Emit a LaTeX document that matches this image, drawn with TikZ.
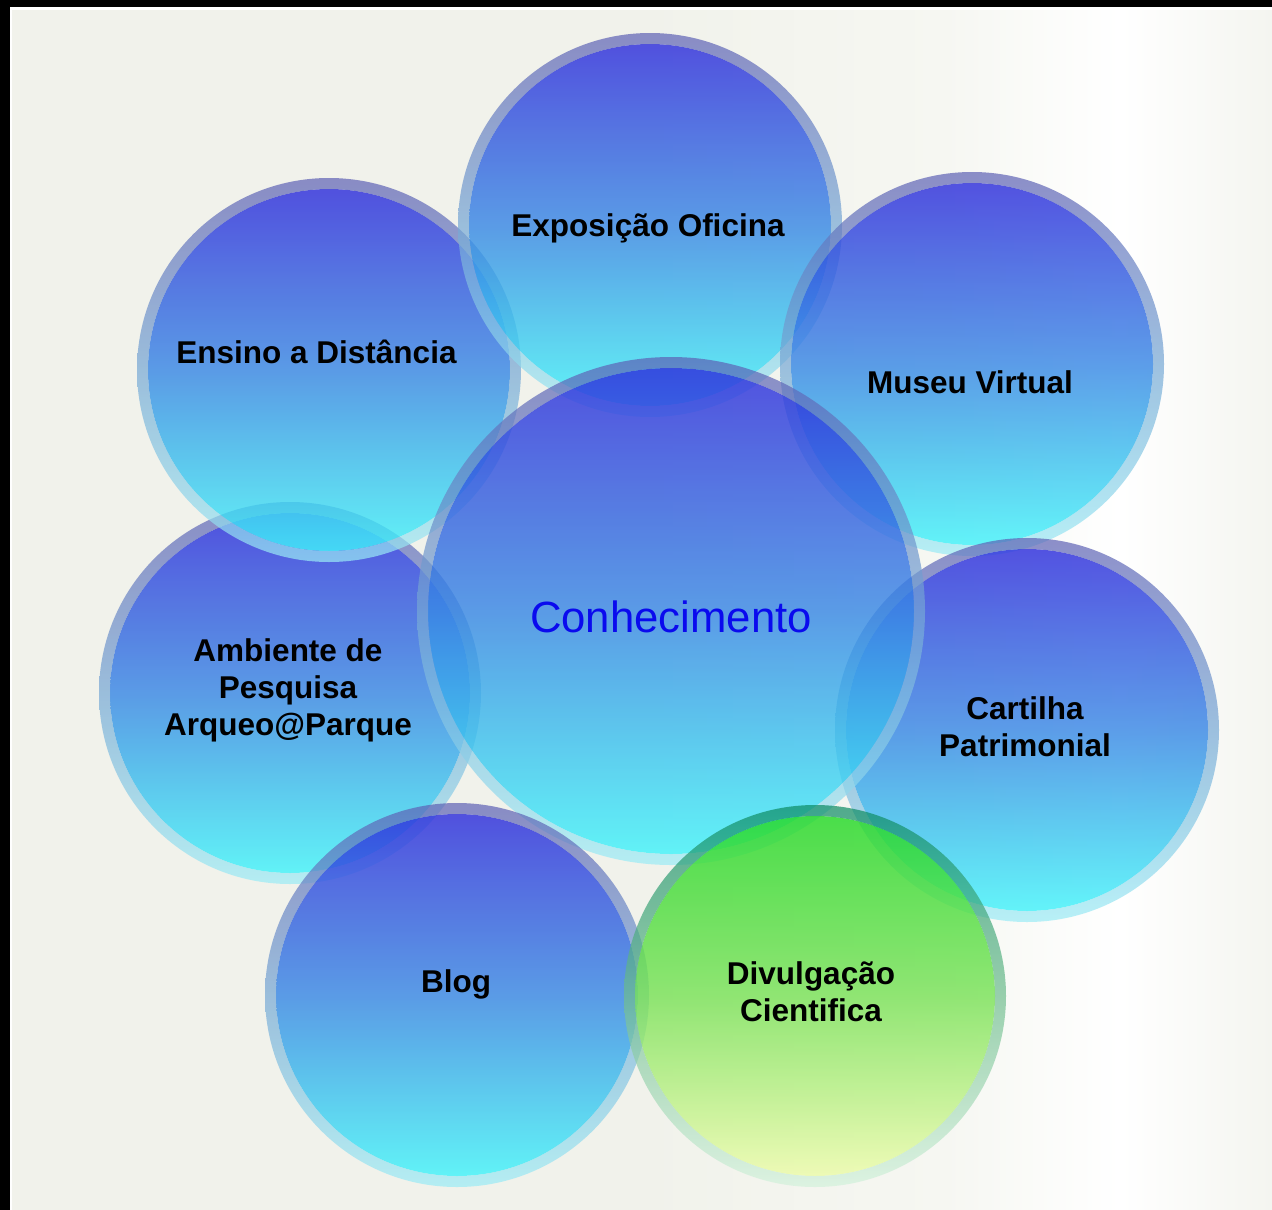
\documentclass[tikz,border=0pt]{standalone}
\usepackage{fontspec}
\setmainfont{Liberation Sans}
\definecolor{bgl}{HTML}{F1F2EB}
\definecolor{bgm}{HTML}{F6F7F2}
\definecolor{bgr}{HTML}{F4F5F0}
% blue fill (top -> bottom)
\definecolor{bfa}{RGB}{46,46,220}
\definecolor{bfb}{RGB}{52,92,224}
\definecolor{bfc}{RGB}{57,136,229}
\definecolor{bfd}{RGB}{61,190,238}
\definecolor{bfe}{RGB}{66,243,250}
% blue rim
\definecolor{bra}{RGB}{93,96,180}
\definecolor{brb}{RGB}{118,168,213}
\definecolor{brc}{RGB}{155,236,246}
% green fill
\definecolor{gfa}{RGB}{37,217,38}
\definecolor{gfb}{RGB}{122,226,88}
\definecolor{gfc}{RGB}{237,252,170}
% green rim
\definecolor{gra}{RGB}{11,139,99}
\definecolor{grb}{RGB}{111,189,142}
\definecolor{grc}{RGB}{211,242,220}
\definecolor{conblue}{RGB}{10,10,238}
\pgfdeclareverticalshading{bluefill}{100bp}{color(0bp)=(bfe); color(25bp)=(bfe); color(37.5bp)=(bfd); color(50bp)=(bfc); color(62.5bp)=(bfb); color(75bp)=(bfa); color(100bp)=(bfa)}
\pgfdeclareverticalshading{bluerim}{100bp}{color(0bp)=(brc); color(25bp)=(brc); color(50bp)=(brb); color(75bp)=(bra); color(100bp)=(bra)}
\pgfdeclareverticalshading{greenfill}{100bp}{color(0bp)=(gfc); color(25bp)=(gfc); color(50bp)=(gfb); color(75bp)=(gfa); color(100bp)=(gfa)}
\pgfdeclareverticalshading{greenrim}{100bp}{color(0bp)=(grc); color(25bp)=(grc); color(50bp)=(grb); color(75bp)=(gra); color(100bp)=(gra)}
\pgfdeclarehorizontalshading{bgshade}{100bp}{color(0bp)=(bgl); color(25bp)=(bgl); color(50bp)=(bgl); color(62bp)=(bgm); color(69bp)=(white); color(75bp)=(bgr); color(100bp)=(bgr)}
\newcommand\drawbubble[4]{%
  \shade[shading=#3, fill opacity=0.82] (#1) circle ({#2-11});
  \shade[shading=#4, fill opacity=0.7, even odd rule] (#1) circle (#2) (#1) circle ({#2-11});
}
\begin{document}
\begin{tikzpicture}[x=1pt,y=1pt,
  lbl/.style={font=\bfseries\fontsize{31.5}{36.7}\selectfont, align=center, anchor=base, inner sep=0pt, text=black},
  centrallbl/.style={font=\fontsize{43.7}{50}\selectfont, anchor=base, inner sep=0pt, text=conblue}]
\useasboundingbox (0,0) rectangle (1272,-1210);
% background and frame
\fill[white] (0,0) rectangle (1272,-1210);
\shade[shading=bgshade] (12,-10) rectangle (1272,-1210);
\fill[black] (0,0) rectangle (1272,-7);
\fill[black] (0,0) rectangle (10,-1210);
% centres
\coordinate (cExpo) at (650,-225);
\coordinate (cEnsino) at (329,-370);
\coordinate (cMuseu) at (972,-364);
\coordinate (cAmb) at (290,-693);
\coordinate (cCart) at (1027,-730);
\coordinate (cConh) at (671,-611);
\coordinate (cBlog) at (457,-995);
\coordinate (cDiv) at (815,-996);
% bubbles
\drawbubble{cAmb}{191}{bluefill}{bluerim}
\drawbubble{cEnsino}{192}{bluefill}{bluerim}
\drawbubble{cExpo}{192}{bluefill}{bluerim}
\drawbubble{cMuseu}{192}{bluefill}{bluerim}
\drawbubble{cCart}{192}{bluefill}{bluerim}
\drawbubble{cConh}{254}{bluefill}{bluerim}
\drawbubble{cBlog}{192}{bluefill}{bluerim}
\drawbubble{cDiv}{191}{greenfill}{greenrim}
% labels (multi-line nodes: base anchor is on the last line)
\node[lbl] (expo) at (648,-236) {Exposição Oficina};
\node[lbl] (ensino) at (316.5,-363) {Ensino a Distância};
\node[lbl] (museu) at (970,-393) {Museu Virtual};
\node[lbl] (amb) at (288,-735) {Ambiente de\\Pesquisa\\Arqueo@Parque};
\node[lbl] (cart) at (1025,-756) {Cartilha\\Patrimonial};
\node[lbl] (blog) at (456,-992) {Blog};
\node[lbl] (div) at (811,-1021) {Divulgação\\Cientifica};
\node[centrallbl] (conh) at (671,-632) {Conhecimento};
\end{tikzpicture}
\end{document}
